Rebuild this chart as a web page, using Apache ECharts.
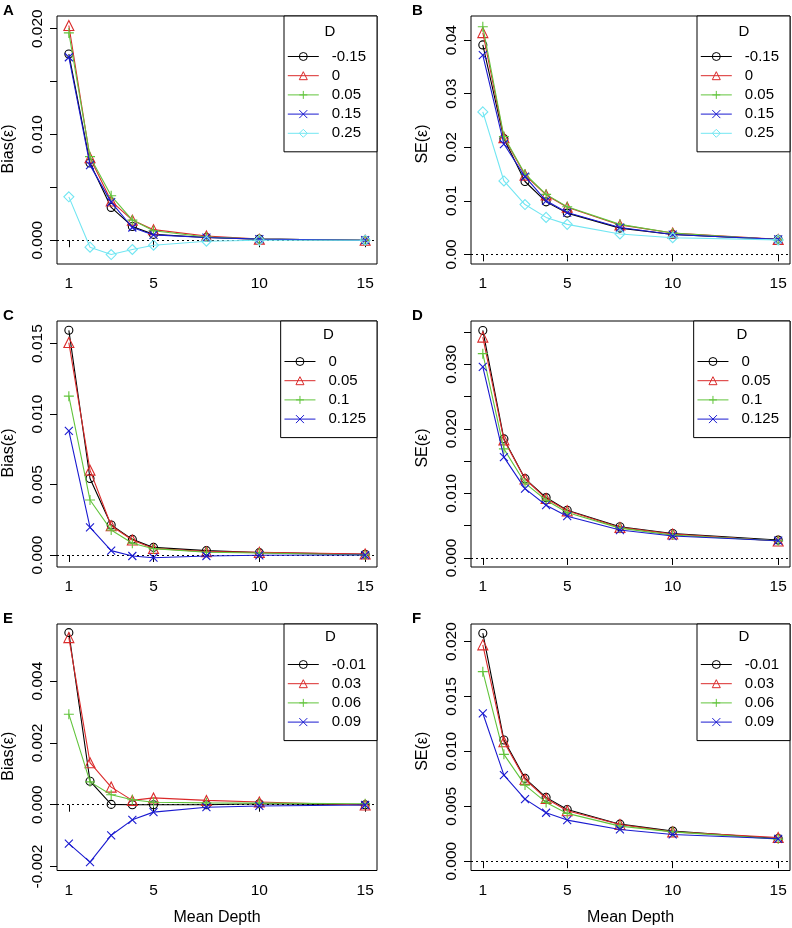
<!DOCTYPE html>
<html><head><meta charset="utf-8">
<script src="https://cdn.jsdelivr.net/npm/echarts@6/dist/echarts.min.js"></script>
<style>html,body{margin:0;padding:0;background:#fff}#c{width:792px;height:928px}</style>
</head><body><div id="c"></div>
<script>
// ---- shared x values ----
const depth = [1, 2, 3, 4, 5, 7.5, 10, 15];
const xTickValues = [1, 5, 10, 15];

// ---- Panel A: Bias(eps) ----
const levelsA = ['-0.15', '0', '0.05', '0.15', '0.25'];
const biasA_m015 = [0.0176, 0.0073, 0.0031, 0.0013, 0.00055, 0.00025, 0.0001, 0.0];
const biasA_0    = [0.0203, 0.0078, 0.0037, 0.0019, 0.0010, 0.0004, 0.0001, 0.0];
const biasA_005  = [0.0196, 0.0079, 0.0042, 0.0019, 0.0009, 0.0003, 0.0001, 0.0];
const biasA_015  = [0.0173, 0.0071, 0.0036, 0.0012, 0.0005, 0.00025, 0.0001, 0.0];
const biasA_025  = [0.0041, -0.00066, -0.00136, -0.00088, -0.00047, -0.0001, 0.0, 0.0];
const yTicksA = [0, 0.005, 0.01, 0.015, 0.02];
const yLabelsA = [0, 0.01, 0.02];

// ---- Panel B: SE(eps) ----
const levelsB = ['-0.15', '0', '0.05', '0.15', '0.25'];
const seB_m015 = [0.0391, 0.0216, 0.0136, 0.0098, 0.0077, 0.0049, 0.0037, 0.0028];
const seB_0    = [0.0414, 0.0218, 0.0148, 0.0111, 0.0088, 0.0055, 0.0040, 0.0028];
const seB_005  = [0.0425, 0.0220, 0.0150, 0.0112, 0.0089, 0.0056, 0.0040, 0.0027];
const seB_015  = [0.0372, 0.0206, 0.0145, 0.0100, 0.0078, 0.0050, 0.0037, 0.0028];
const seB_025  = [0.0266, 0.0137, 0.0093, 0.0069, 0.0056, 0.0038, 0.0031, 0.0027];
const yTicksB = [0, 0.01, 0.02, 0.03, 0.04];
const yLabelsB = [0, 0.01, 0.02, 0.03, 0.04];

// ---- Panel C: Bias(eps) ----
const levelsC = ['0', '0.05', '0.1', '0.125'];
const biasC_0    = [0.01594, 0.00543, 0.00213, 0.00111, 0.00054, 0.00031, 0.00017, 0.00005];
const biasC_005  = [0.01507, 0.00602, 0.00208, 0.00106, 0.00047, 0.00024, 0.00019, 0.00007];
const biasC_01   = [0.01127, 0.0039, 0.00177, 0.00083, 0.00045, 0.0002, 0.00014, 0.0];
const biasC_0125 = [0.00881, 0.00196, 0.00031, -0.00007, -0.00019, -0.00007, -0.00002, 0.0];
const yTicksC = [0, 0.005, 0.01, 0.015];
const yLabelsC = [0, 0.005, 0.01, 0.015];

// ---- Panel D: SE(eps) ----
const levelsD = ['0', '0.05', '0.1', '0.125'];
const seD_0    = [0.03524, 0.01844, 0.01228, 0.00935, 0.0074, 0.00483, 0.0038, 0.00277];
const seD_005  = [0.03421, 0.01829, 0.01223, 0.0092, 0.0073, 0.00473, 0.0037, 0.00262];
const seD_01   = [0.03164, 0.0169, 0.0116, 0.00894, 0.00704, 0.00462, 0.00354, 0.00267];
const seD_0125 = [0.02959, 0.01562, 0.01074, 0.00817, 0.00647, 0.00432, 0.00339, 0.00267];
const yTicksD = [0, 0.005, 0.01, 0.015, 0.02, 0.025, 0.03, 0.035];
const yLabelsD = [0, 0.01, 0.02, 0.03];

// ---- Panel E: Bias(eps) ----
const levelsE = ['-0.01', '0.03', '0.06', '0.09'];
const biasE_m001 = [0.00557, 0.00076, 0.00001, 0.0, 0.0, 0.0, 0.00003, 0.0];
const biasE_003  = [0.00541, 0.00136, 0.00057, 0.00014, 0.00022, 0.00014, 0.00009, -0.00001];
const biasE_006  = [0.00293, 0.00074, 0.00032, 0.00016, 0.00008, 0.00006, 0.00005, 0.00003];
const biasE_009  = [-0.00126, -0.00186, -0.00099, -0.00049, -0.00024, -0.00008, -0.00004, -0.00001];
const yTicksE = [-0.002, 0, 0.002, 0.004];
const yLabelsE = [-0.002, 0, 0.002, 0.004];

// ---- Panel F: SE(eps) ----
const levelsF = ['-0.01', '0.03', '0.06', '0.09'];
const seF_m001 = [0.02076, 0.01103, 0.00754, 0.00581, 0.00471, 0.00337, 0.00274, 0.00207];
const seF_003  = [0.0197, 0.01088, 0.00745, 0.00571, 0.00459, 0.00334, 0.00267, 0.00216];
const seF_006  = [0.01726, 0.00973, 0.00693, 0.00535, 0.00435, 0.00319, 0.00267, 0.00201];
const seF_009  = [0.01347, 0.00784, 0.00565, 0.00441, 0.00374, 0.00289, 0.00243, 0.00204];
const yTicksF = [0, 0.005, 0.01, 0.015, 0.02];
const yLabelsF = [0, 0.005, 0.01, 0.015, 0.02];

// ---- styling ----
const FONT = "'Liberation Sans', Arial, Helvetica, sans-serif";
const COLORS = ['#000000', '#DA2A2A', '#62C43C', '#1A1AD0', '#72E6F2'];
const SYMBOLS = ['circle', 'triangle', 'path://M5,0L5,10M0,5L10,5', 'path://M0,0L10,10M10,0L0,10', 'diamond'];
const SYMSIZE = [8, 10, 10, 8, 10];

const panels = [
  { letter: 'A', yName: 'Bias(\u03b5)', levels: levelsA, data: [biasA_m015, biasA_0, biasA_005, biasA_015, biasA_025],
    rect: { left: 57, right: 415, top: 16, bottom: 664 }, yMin: -0.00225, yMax: 0.0212, ticks: yTicksA, labels: yLabelsA, dec: 3, xName: '', namePad: 18 },
  { letter: 'B', yName: 'SE(\u03b5)', levels: levelsB, data: [seB_m015, seB_0, seB_005, seB_015, seB_025],
    rect: { left: 471, right: 2, top: 16, bottom: 664 }, yMin: -0.0018, yMax: 0.0445, ticks: yTicksB, labels: yLabelsB, dec: 2, xName: '', namePad: 8 },
  { letter: 'C', yName: 'Bias(\u03b5)', levels: levelsC, data: [biasC_0, biasC_005, biasC_01, biasC_0125],
    rect: { left: 57, right: 415, top: 321, bottom: 361 }, yMin: -0.00085, yMax: 0.0166, ticks: yTicksC, labels: yLabelsC, dec: 3, xName: '', namePad: 18 },
  { letter: 'D', yName: 'SE(\u03b5)', levels: levelsD, data: [seD_0, seD_005, seD_01, seD_0125],
    rect: { left: 471, right: 2, top: 321, bottom: 361 }, yMin: -0.0014, yMax: 0.0367, ticks: yTicksD, labels: yLabelsD, dec: 3, xName: '', namePad: 8 },
  { letter: 'E', yName: 'Bias(\u03b5)', levels: levelsE, data: [biasE_m001, biasE_003, biasE_006, biasE_009],
    rect: { left: 57, right: 415, top: 624, bottom: 57.5 }, yMin: -0.00213, yMax: 0.00585, ticks: yTicksE, labels: yLabelsE, dec: 3, xName: 'Mean Depth', namePad: 18 },
  { letter: 'F', yName: 'SE(\u03b5)', levels: levelsF, data: [seF_m001, seF_003, seF_006, seF_009],
    rect: { left: 471, right: 2, top: 624, bottom: 57.5 }, yMin: -0.00085, yMax: 0.0216, ticks: yTicksF, labels: yLabelsF, dec: 3, xName: 'Mean Depth', namePad: 8 }
];

const W = 792, H = 928;
const option = { animation: false, backgroundColor: '#fff', grid: [], xAxis: [], yAxis: [], series: [], legend: [], graphic: [] };

panels.forEach((p, i) => {
  option.grid.push(Object.assign({ show: true, borderColor: '#000', borderWidth: 1, backgroundColor: 'transparent', containLabel: false }, p.rect));
  option.xAxis.push({
    type: 'value', gridIndex: i, min: 0.44, max: 15.56,
    name: p.xName, nameLocation: 'middle', nameGap: 39,
    nameTextStyle: { fontSize: 16, color: '#000', fontFamily: FONT },
    axisLine: { show: false },
    axisTick: { show: true, inside: false, length: 7, customValues: xTickValues, lineStyle: { color: '#000', width: 1 } },
    axisLabel: { show: true, customValues: xTickValues, margin: 12, fontSize: 15.5, color: '#000', fontFamily: FONT },
    splitLine: { show: false }
  });
  option.yAxis.push({
    type: 'value', gridIndex: i, min: p.yMin, max: p.yMax,
    name: p.yName, nameLocation: 'middle', nameGap: 40, nameRotate: 90,
    nameTextStyle: { fontSize: 16, color: '#000', fontFamily: FONT, padding: [0, p.namePad, 0, 0] },
    axisLine: { show: false },
    axisTick: { show: true, inside: false, length: 7, customValues: p.ticks, lineStyle: { color: '#000', width: 1 } },
    axisLabel: { show: true, customValues: p.labels, rotate: 90, margin: 11, fontSize: 15.5, color: '#000', fontFamily: FONT,
      formatter: v => Number(v).toFixed(p.dec) },
    splitLine: { show: false }
  });
  const names = [];
  p.levels.forEach((lev, k) => {
    const nm = p.letter + '|' + lev;
    names.push(nm);
    const s = {
      type: 'line', name: nm, xAxisIndex: i, yAxisIndex: i,
      data: depth.map((x, j) => [x, p.data[k][j]]),
      symbol: SYMBOLS[k], symbolSize: SYMSIZE[k], showAllSymbol: true,
      lineStyle: { color: COLORS[k], width: 1.1 },
      itemStyle: { color: 'rgba(0,0,0,0)', borderColor: COLORS[k], borderWidth: 1.1 },
      emphasis: { disabled: true }, silent: true, z: 2 + k
    };
    if (k === 0) {
      s.markLine = {
        silent: true, symbol: ['none', 'none'], label: { show: false },
        lineStyle: { color: '#000', type: [2, 3], width: 1 },
        data: [{ yAxis: 0 }], z: 1
      };
    }
    option.series.push(s);
  });
  option.legend.push({
    orient: 'vertical', top: p.rect.top, right: p.rect.right, data: names,
    formatter: n => n.split('|')[1],
    itemWidth: 31, itemHeight: 10, itemGap: 4.2, padding: [33, 11, 11, 3.3],
    borderColor: '#000', borderWidth: 1, borderRadius: 0, backgroundColor: '#fff',
    selectedMode: false, z: 10,
    itemStyle: { borderWidth: 1 },
    lineStyle: { width: 1 },
    textStyle: { fontSize: 15, color: '#000', fontFamily: FONT, padding: [0, 0, 0, 8] }
  });
  const letterX = (i % 2 === 0) ? 3 : 412;
  option.graphic.push({ type: 'text', left: letterX, top: p.rect.top - 13,
    style: { text: p.letter, font: 'bold 15px ' + FONT, fill: '#000' }, z: 20 });
});

// "D" legend titles (text annotations)
const dTitleCenters = [[330, 32], [744, 32], [328.5, 335], [742, 335], [330.5, 637], [744, 637]];
dTitleCenters.forEach(c => {
  option.graphic.push({ type: 'text', x: c[0], y: c[1],
    style: { text: 'D', font: '15px ' + FONT, fill: '#000', align: 'center', verticalAlign: 'middle' }, z: 30 });
});

const chart = echarts.init(document.getElementById('c'), null, { renderer: 'canvas', width: W, height: H });
chart.setOption(option);
</script></body></html>
